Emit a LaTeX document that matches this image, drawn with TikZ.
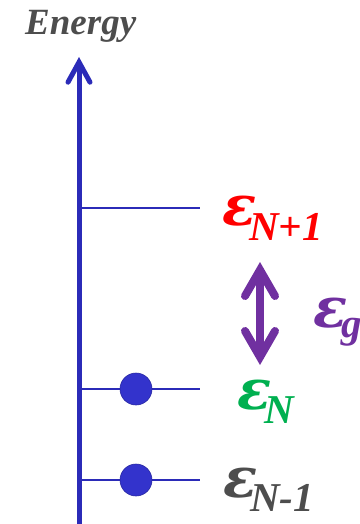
\documentclass[tikz,border=0pt]{standalone}
\usepackage{fontspec}
\setmainfont{Liberation Serif}
\newfontfamily\epsfont{DejaVu Serif}
\usetikzlibrary{arrows.meta}
\definecolor{axisblue}{HTML}{2B2BB8}
\definecolor{dotblue}{HTML}{3333CC}
\definecolor{epsred}{HTML}{FF0000}
\definecolor{epspurple}{HTML}{7030A0}
\definecolor{epsgreen}{HTML}{00B050}
\definecolor{epsgray}{HTML}{4D4D4D}
\newcommand{\epslabel}[3]{{\epsfont\fontsize{56}{56}\selectfont ε}\kern#2\raisebox{#3}{\fontsize{41}{41}\selectfont #1}}
\begin{document}
\begin{tikzpicture}[x=1pt,y=-1pt, font=\bfseries\itshape,
  levelline/.style={axisblue, line width=2.2pt},
  electron/.style={circle, fill=dotblue, draw=dotblue!80!black, line width=0.6pt, minimum size=32pt, inner sep=0pt},
  lbl/.style={anchor=base west, inner sep=0pt}]
\useasboundingbox (0,0) rectangle (359,524);
% axis
\coordinate (axb) at (79,524);
\coordinate (axt) at (79,57);
\draw[axisblue, line width=5pt, -{Straight Barb[length=20pt,width=22pt,line cap=round]}] (axb) -- (axt);
\node[lbl, text=epsgray, font=\fontsize{37}{37}\selectfont\bfseries\itshape] (energy) at (25,35) {Energy};
% levels
\coordinate (l1a) at (79,208); \coordinate (l1b) at (200,208);
\coordinate (l2a) at (79,389); \coordinate (l2b) at (200,389);
\coordinate (l3a) at (79,480); \coordinate (l3b) at (200,480);
\draw[levelline] (l1a) -- (l1b);
\draw[levelline] (l2a) -- (l2b);
\draw[levelline] (l3a) -- (l3b);
% electrons
\node[electron] (e1) at (136,389) {};
\node[electron] (e2) at (136,480) {};
% gap arrow
\coordinate (gt) at (260,262);
\coordinate (gb) at (260,365);
\draw[epspurple, line width=8pt, {Straight Barb[length=26pt,width=30pt,line cap=round]}-{Straight Barb[length=26pt,width=30pt,line cap=round]}] (gb) -- (gt);
% labels
\node[lbl, text=epsred] (lN1) at (222,225) {\epslabel{N+1}{-7pt}{-15pt}};
\node[lbl, text=epspurple] (lg) at (313,327) {\epslabel{g}{-6pt}{-10pt}};
\node[lbl, text=epsgreen] (lN) at (237,409) {\epslabel{N}{-7pt}{-14pt}};
\node[lbl, text=epsgray] (lNm1) at (223,497) {\epslabel{N-1}{-7pt}{-14pt}};
\end{tikzpicture}
\end{document}
